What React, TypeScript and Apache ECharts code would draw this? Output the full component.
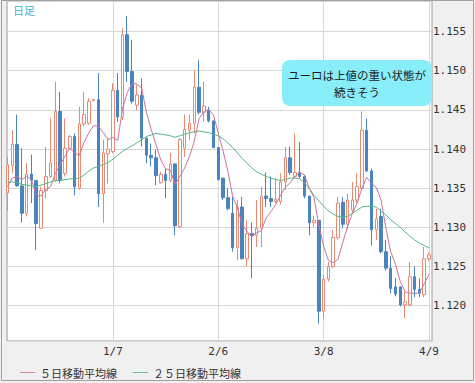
import React, { useEffect, useRef } from 'react';
import * as echarts from 'echarts';

const dates = ['12/6','12/7','12/10','12/11','12/12','12/13','12/14','12/17','12/18','12/19','12/20','12/21','12/24','12/25','12/26','12/27','12/28','12/31','1/1','1/2','1/3','1/4','1/7','1/8','1/9','1/10','1/11','1/14','1/15','1/16','1/17','1/18','1/21','1/22','1/23','1/24','1/25','1/28','1/29','1/30','1/31','2/1','2/4','2/5','2/6','2/7','2/8','2/11','2/12','2/13','2/14','2/15','2/18','2/19','2/20','2/21','2/22','2/25','2/26','2/27','2/28','3/1','3/4','3/5','3/6','3/7','3/8','3/11','3/12','3/13','3/14','3/15','3/18','3/19','3/20','3/21','3/22','3/25','3/26','3/27','3/28','3/29','4/1','4/2','4/3','4/4','4/5','4/8','4/9'];

const opens = [
  1.1344,1.1379,1.1406,1.1353,1.1318,1.1368,1.1360,1.1299,1.1347,1.1365,
  1.1360,1.1448,1.1369,1.1401,1.1416,1.1350,1.1432,1.1433,1.1462,1.1463,
  1.1343,1.1394,1.1397,1.1475,1.1441,1.1546,1.1499,1.1456,1.1469,1.1414,
  1.1392,1.1389,1.1357,1.1368,1.1360,1.1381,1.1301,1.1401,1.1424,1.1433,
  1.1479,1.1447,1.1450,1.1436,1.1402,1.1363,1.1338,1.1318,1.1274,1.1326,
  1.1260,1.1292,1.1290,1.1299,1.1340,1.1337,1.1333,1.1333,1.1358,1.1389,
  1.1365,1.1370,1.1365,1.1340,1.1306,1.1309,1.1193,1.1234,1.1250,1.1287,
  1.1332,1.1304,1.1322,1.1335,1.1350,1.1424,1.1372,1.1297,1.1314,1.1269,
  1.1248,1.1224,1.1224,1.1201,1.1201,1.1237,1.1221,1.1214,1.1260
];
const closes = [
  1.1380,1.1406,1.1353,1.1318,1.1368,1.1360,1.1305,1.1347,1.1365,1.1382,
  1.1448,1.1360,1.1401,1.1416,1.1352,1.1432,1.1444,1.1461,1.1463,1.1343,
  1.1395,1.1400,1.1475,1.1441,1.1546,1.1499,1.1461,1.1469,1.1414,1.1392,
  1.1389,1.1366,1.1368,1.1360,1.1381,1.1302,1.1412,1.1425,1.1433,1.1479,
  1.1447,1.1455,1.1436,1.1402,1.1361,1.1338,1.1324,1.1274,1.1326,1.1260,
  1.1292,1.1290,1.1299,1.1340,1.1337,1.1333,1.1336,1.1358,1.1389,1.1370,
  1.1370,1.1365,1.1340,1.1306,1.1309,1.1193,1.1234,1.1250,1.1287,1.1331,
  1.1304,1.1335,1.1335,1.1352,1.1424,1.1372,1.1297,1.1311,1.1269,1.1248,
  1.1222,1.1215,1.1201,1.1205,1.1237,1.1221,1.1216,1.1260,1.1265
];
const lows = [
  1.1321,1.1369,1.1352,1.1306,1.1314,1.1331,1.1271,1.1298,1.1337,1.1363,
  1.1358,1.1356,1.1365,1.1399,1.1341,1.1348,1.1429,1.1431,1.1461,1.1326,
  1.1306,1.1356,1.1395,1.1435,1.1437,1.1486,1.1458,1.1450,1.1403,1.1382,
  1.1378,1.1354,1.1356,1.1337,1.1358,1.1290,1.1299,1.1390,1.1412,1.1420,
  1.1444,1.1435,1.1434,1.1401,1.1360,1.1335,1.1322,1.1269,1.1258,1.1259,
  1.1250,1.1235,1.1275,1.1275,1.1326,1.1326,1.1331,1.1329,1.1348,1.1367,
  1.1363,1.1363,1.1337,1.1290,1.1301,1.1177,1.1184,1.1231,1.1248,1.1284,
  1.1299,1.1297,1.1318,1.1331,1.1348,1.1371,1.1277,1.1284,1.1267,1.1245,
  1.1216,1.1212,1.1199,1.1184,1.1199,1.1211,1.1211,1.1211,1.1257
];
const highs = [
  1.1390,1.1424,1.1444,1.1401,1.1382,1.1393,1.1360,1.1352,1.1403,1.1439,
  1.1486,1.1473,1.1439,1.1418,1.1420,1.1454,1.1473,1.1465,1.1464,1.1497,
  1.1412,1.1414,1.1484,1.1497,1.1554,1.1570,1.1539,1.1482,1.1490,1.1414,
  1.1407,1.1399,1.1371,1.1375,1.1395,1.1382,1.1414,1.1444,1.1444,1.1501,
  1.1514,1.1486,1.1454,1.1436,1.1402,1.1363,1.1350,1.1339,1.1335,1.1339,
  1.1309,1.1306,1.1335,1.1352,1.1370,1.1365,1.1363,1.1369,1.1403,1.1403,
  1.1420,1.1409,1.1367,1.1340,1.1315,1.1309,1.1239,1.1256,1.1297,1.1339,
  1.1339,1.1343,1.1358,1.1369,1.1448,1.1439,1.1375,1.1324,1.1324,1.1284,
  1.1263,1.1235,1.1225,1.1218,1.1256,1.1250,1.1235,1.1275,1.1268
];
const ma5 = [
  1.1352,1.1363,1.1365,1.1361,1.1365,1.1361,1.1341,1.1340,1.1349,1.1352,
  1.1369,1.1380,1.1391,1.1401,1.1395,1.1392,1.1409,1.1421,1.1430,1.1429,
  1.1421,1.1412,1.1415,1.1411,1.1451,1.1472,1.1484,1.1483,1.1478,1.1447,
  1.1425,1.1406,1.1386,1.1375,1.1373,1.1355,1.1365,1.1376,1.1391,1.1410,
  1.1439,1.1448,1.1450,1.1444,1.1420,1.1398,1.1372,1.1340,1.1325,1.1304,
  1.1295,1.1288,1.1293,1.1296,1.1312,1.1320,1.1329,1.1341,1.1351,1.1357,
  1.1365,1.1370,1.1367,1.1350,1.1338,1.1303,1.1276,1.1258,1.1255,1.1259,
  1.1281,1.1301,1.1318,1.1331,1.1350,1.1364,1.1356,1.1351,1.1335,1.1299,
  1.1269,1.1253,1.1231,1.1218,1.1216,1.1216,1.1216,1.1228,1.1240
];
const ma25 = [
  1.1358,1.1358,1.1357,1.1355,1.1354,1.1353,1.1352,1.1354,1.1356,1.1358,
  1.1360,1.1360,1.1361,1.1362,1.1362,1.1363,1.1367,1.1372,1.1376,1.1378,
  1.1380,1.1383,1.1387,1.1392,1.1397,1.1401,1.1404,1.1408,1.1412,1.1416,
  1.1418,1.1420,1.1419,1.1418,1.1417,1.1415,1.1417,1.1419,1.1421,1.1422,
  1.1423,1.1422,1.1421,1.1419,1.1417,1.1413,1.1408,1.1402,1.1395,1.1388,
  1.1382,1.1376,1.1371,1.1368,1.1365,1.1363,1.1361,1.1360,1.1361,1.1363,
  1.1363,1.1362,1.1357,1.1350,1.1341,1.1334,1.1327,1.1321,1.1317,1.1314,
  1.1313,1.1314,1.1318,1.1322,1.1326,1.1327,1.1327,1.1326,1.1321,1.1316,
  1.1310,1.1305,1.1300,1.1294,1.1289,1.1284,1.1280,1.1277,1.1274
];

const markedDates = ['1/7', '2/6', '3/8', '4/9'];
const seriesNames = ['５日移動平均線', '２５日移動平均線'];
const noteLines = ['ユーロは上値の重い状態が', '続きそう'];
const periodLabel = '日足';

const Y_MIN = 1.1155;
const Y_MAX = 1.1589;

export default function App() {
  const ref = useRef<HTMLDivElement>(null);
  useEffect(() => {
    document.body.style.margin = '0';
    if (!ref.current) return;
    const chart = echarts.init(ref.current, null, { renderer: 'svg' });
    const monoFont = 'DejaVu Sans Mono';
    const jpFont = '"Noto Sans CJK JP", "Noto Sans", sans-serif';
    const candleData = dates.map((_, i) => [opens[i], closes[i], lows[i], highs[i]]);
    const isMarked = (_i: number, v: string) => markedDates.includes(v);
    chart.setOption({
      animation: false,
      backgroundColor: '#f0f0f0',
      grid: [
        { left: 7, top: 1, width: 425, height: 340, show: true, backgroundColor: '#ffffff', borderColor: '#9a9a9a', borderWidth: 1 },
        { left: 7.5, top: 1, width: 421.5, height: 340, show: false },
      ],
      xAxis: [
        { gridIndex: 0, type: 'value', min: 0, max: 1, show: false },
        {
          gridIndex: 1, type: 'category', data: dates, boundaryGap: false,
          axisLine: { show: false }, axisTick: { show: false },
          axisLabel: { interval: isMarked, margin: 5, fontFamily: monoFont, fontSize: 11, color: '#333' },
          splitLine: { show: true, interval: isMarked, lineStyle: { color: '#d6d6d6', width: 1 } },
        },
      ],
      yAxis: [
        {
          gridIndex: 0, type: 'value', position: 'right', min: Y_MIN, max: Y_MAX, splitNumber: 8,
          axisLine: { show: false }, axisTick: { show: false },
          axisLabel: { margin: 1, showMinLabel: false, showMaxLabel: false, formatter: (v: number) => v.toFixed(3), fontFamily: monoFont, fontSize: 11, color: '#333' },
          splitLine: { show: true, lineStyle: { color: '#d6d6d6', width: 1 } },
        },
        { gridIndex: 1, type: 'value', min: Y_MIN, max: Y_MAX, show: false, splitLine: { show: false } },
      ],
      legend: {
        left: 15, top: 362, icon: 'rect', itemWidth: 15, itemHeight: 1, itemGap: 16,
        data: seriesNames,
        textStyle: { fontFamily: jpFont, fontSize: 11, color: '#333' },
      },
      series: [
        {
          type: 'candlestick', xAxisIndex: 1, yAxisIndex: 1, data: candleData, barWidth: 3, clip: false,
          itemStyle: { color: '#ffffff', color0: '#4a84c0', borderColor: '#e68a74', borderColor0: '#4a84c0', borderWidth: 1 },
        },
        {
          name: seriesNames[0], type: 'line', xAxisIndex: 1, yAxisIndex: 1, data: ma5, symbol: 'none',
          color: '#d48aab', lineStyle: { width: 1, color: '#c8749e' },
        },
        {
          name: seriesNames[1], type: 'line', xAxisIndex: 1, yAxisIndex: 1, data: ma25, symbol: 'none',
          color: '#6cc095', lineStyle: { width: 1, color: '#55b583' },
        },
      ],
      graphic: [
        { type: 'rect', silent: true, shape: { x: 1.5, y: 0.5, width: 472, height: 380 }, style: { fill: 'none', stroke: '#a0a0a0', lineWidth: 1 }, z: 50 },
        { type: 'text', x: 13, y: 4, style: { text: periodLabel, fill: '#3fb3e0', font: `11px ${jpFont}` }, z: 50 },
        {
          type: 'group', z: 60,
          children: [
            { type: 'rect', shape: { x: 282, y: 60, width: 150, height: 46, r: 8 }, style: { fill: '#88eefa' }, z: 60 },
            { type: 'text', x: 357, y: 75, style: { text: noteLines[0], fill: '#222', font: `11.5px ${jpFont}`, textAlign: 'center', textVerticalAlign: 'middle' }, z: 61 },
            { type: 'text', x: 357, y: 92, style: { text: noteLines[1], fill: '#222', font: `11.5px ${jpFont}`, textAlign: 'center', textVerticalAlign: 'middle' }, z: 61 },
          ],
        },
      ],
    });
    return () => chart.dispose();
  }, []);
  return <div ref={ref} style={{ width: 475, height: 383 }} />;
}
